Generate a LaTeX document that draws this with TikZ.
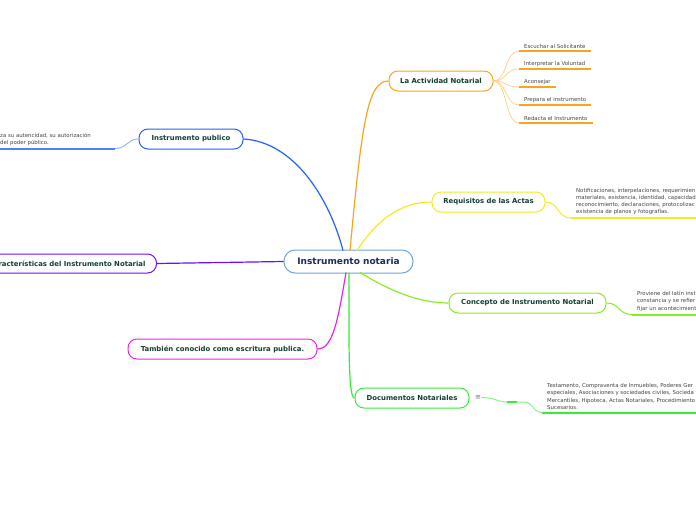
\documentclass[tikz,border=0pt]{standalone}
\usepackage{fontspec}
\setmainfont{DejaVu Sans}
\definecolor{cblue}{HTML}{2260FF}
\definecolor{cpurple}{HTML}{6A10FF}
\definecolor{cmag}{HTML}{EE22EE}
\definecolor{corange}{HTML}{F8A51E}
\definecolor{corangel}{HTML}{FFCE88}
\definecolor{cyellow}{HTML}{EEEE22}
\definecolor{clgreen}{HTML}{88EE22}
\definecolor{cgreen}{HTML}{33EE33}
\definecolor{ccentral}{HTML}{6AA6DA}
\definecolor{tcentral}{HTML}{1B2A5E}
\definecolor{tdark}{HTML}{123F33}
\definecolor{tleaf}{HTML}{454545}
\tikzset{
  topic/.style={draw, fill=white, rounded corners=9pt, line width=1pt, minimum height=20pt,
    inner xsep=4pt, inner ysep=0pt, font=\fontsize{6.9}{8}\selectfont\bfseries, text=tdark},
  leaf/.style={anchor=south west, inner xsep=5pt, inner ysep=2.5pt, align=left,
    font=\fontsize{5.4}{7.2}\selectfont, text=tleaf},
  conn/.style={line width=1.2pt},
  uline/.style={line width=1pt},
  oline/.style={line width=1.4pt, draw=corange},
  wline/.style={line width=2pt},
}
\begin{document}
\begin{tikzpicture}[x=1pt,y=-1pt]
\useasboundingbox (0,0) rectangle (696,520);
\clip (0,0) rectangle (696,520);
\fill[white] (0,0) rectangle (696,520);

% central
\node[draw=ccentral, fill=white, rounded corners=11pt, line width=1pt, minimum width=129pt,
  minimum height=23pt, font=\fontsize{9}{10}\selectfont\bfseries, text=tcentral] (c) at (348.5,261.5) {Instrumento notaria};
\coordinate (cb) at (343,250.5);
\coordinate (co) at (350,250.5);
\coordinate (cy) at (357,250.5);
\coordinate (cm) at (346,272.5);
\coordinate (cg) at (349,272.5);
\coordinate (cl) at (360,272.5);

% topics
\node[topic, draw=cblue, minimum width=104pt] (pub) at (191,139) {Instrumento publico};
\node[topic, draw=cpurple, minimum height=19pt, inner xsep=11pt, anchor=east] (car) at (157,263.5) {Características del Instrumento Notarial};
\node[topic, draw=cmag, minimum width=189pt] (tam) at (222.5,349) {También conocido como escritura publica.};
\node[topic, draw=corange, minimum width=104pt] (act) at (441,81) {La Actividad Notarial};
\node[topic, draw=cyellow, minimum width=113pt] (req) at (488.5,202) {Requisitos de las Actas};
\node[topic, draw=clgreen, minimum width=157pt] (con) at (527.5,303) {Concepto de Instrumento Notarial};
\node[topic, draw=cgreen, minimum width=114pt] (doc) at (412,398) {Documentos Notariales};

% main connectors
\draw[conn, cblue] (cb) .. controls (330,200) and (295,142) .. (pub.east);
\draw[conn, cpurple] (c.west) -- (car.east);
\draw[conn, cmag] (cm) .. controls (338,320) and (333,349) .. (tam.east);
\draw[conn, corange] (co) .. controls (362,120) and (368,81) .. (act.west);
\draw[conn, cyellow] (cy) .. controls (380,215) and (405,202) .. (req.west);
\draw[conn, clgreen] (cl) .. controls (392,292) and (420,303) .. (con.west);
\draw[conn, cgreen] (cg) .. controls (349,340) and (348,398) .. (doc.west);

% Instrumento publico detail
\node[leaf, anchor=south west, inner xsep=0pt] (pubtxt) at (0,148.5) {za su autencidad, su autorización\\del poder público.};
\coordinate (pubend) at (115,148.5);
\coordinate (pubstart) at (-5,148.5);
\draw[wline, cblue!80] (pubstart) -- (pubend);
\draw[uline, cblue!45] (pubend) .. controls (127,148.5) and (127,139) .. (pub.west);

% La Actividad Notarial leaves
\node[leaf] (a1) at (519,51) {Escuchar al Solicitante};
\node[leaf] (a2) at (519,69) {Interpretar la Voluntad};
\node[leaf] (a3) at (519,87) {Aconsejar};
\node[leaf] (a4) at (519,105) {Prepara el instrumento};
\node[leaf] (a5) at (519,123) {Redacta el Instrumento};
\draw[line width=0.7pt, corangel] (act.east) .. controls (507,81) and (505,51) .. (a1.south west);
\draw[line width=0.7pt, corangel] (act.east) .. controls (507,81) and (505,69) .. (a2.south west);
\draw[line width=0.7pt, corangel] (act.east) .. controls (507,81) and (505,87) .. (a3.south west);
\draw[line width=0.7pt, corangel] (act.east) .. controls (507,81) and (505,105) .. (a4.south west);
\draw[line width=0.7pt, corangel] (act.east) .. controls (507,81) and (505,123) .. (a5.south west);
\draw[oline] (a1.south west) -- (a1.south east);
\draw[oline] (a2.south west) -- (a2.south east);
\draw[oline] (a3.south west) -- (a3.south east);
\draw[oline] (a4.south west) -- (a4.south east);
\draw[oline] (a5.south west) -- (a5.south east);

% Requisitos leaf
\node[leaf, inner ysep=3pt] (r1) at (571,218) {Notificaciones, interpelaciones, requerimien\\materiales, existencia, identidad, capacidad\\reconocimiento, declaraciones, protocolizac\\existencia de planos y fotografías.};
\coordinate (r1end) at (700,218);
\draw[wline, cyellow] (r1.south west) -- (r1end);
\draw[uline, cyellow] (req.east) .. controls (559,202) and (557,218) .. (r1.south west);

% Concepto leaf
\node[leaf, inner ysep=3pt] (k1) at (632,314.5) {Proviene del latín inst\\constancia y se refier\\fijar un acontecimient};
\coordinate (k1end) at (700,314.5);
\draw[wline, clgreen] (k1.south west) -- (k1end);
\draw[uline, clgreen] (con.east) .. controls (620,303) and (618,314.5) .. (k1.south west);

% Documentos leaf
\node[inner sep=0pt, font=\fontsize{7}{8}\selectfont, text=tdark!70] (menu) at (478,397.5) {≡};
\node[leaf, inner ysep=3pt] (d1) at (542,412.5) {Testamento, Compraventa de Inmuebles, Poderes Ger\\especiales, Asociaciones y sociedades civiles, Socieda\\Mercantiles, Hipoteca, Actas Notariales, Procedimiento\\Sucesarios.};
\coordinate (d1end) at (700,412.5);
\coordinate (dk1) at (507,402);
\coordinate (dk2) at (517,402);
\coordinate (dk3) at (524,402);
\draw[wline, cgreen] (d1.south west) -- (d1end);
\draw[uline, cgreen!60] (menu.east) .. controls (495,397.5) and (497,402) .. (dk1) -- (dk3)
  .. controls (533,402) and (533,412.5) .. (d1.south west);
\draw[wline, cgreen] (dk1) -- (dk2);
\end{tikzpicture}
\end{document}
